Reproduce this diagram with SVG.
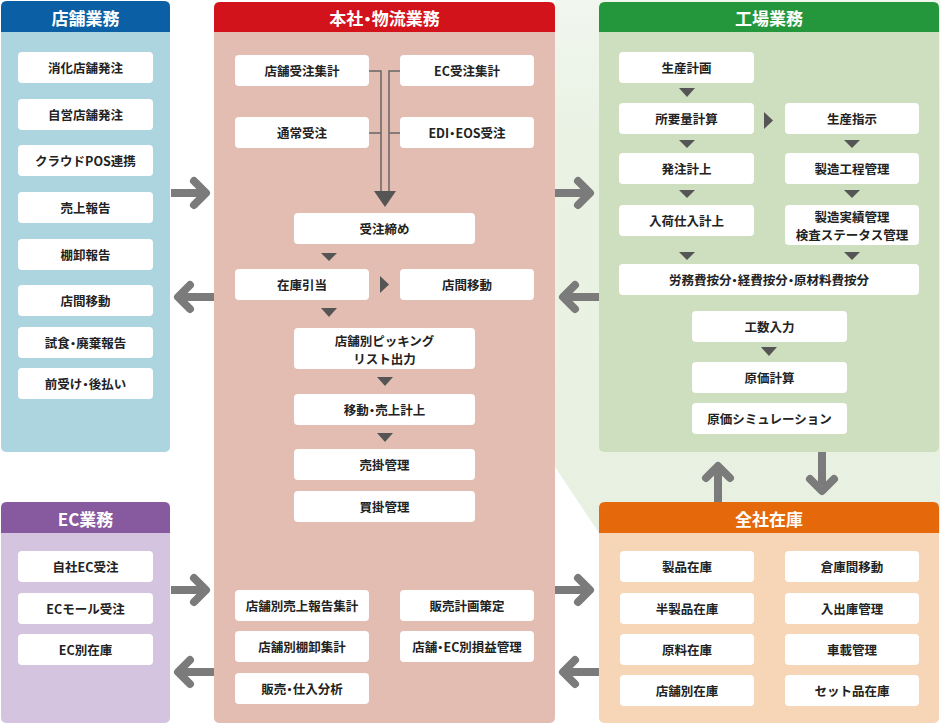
<svg xmlns="http://www.w3.org/2000/svg" width="940" height="724" viewBox="0 0 940 724">
<defs>
<linearGradient id="bgGrad" x1="0" y1="0" x2="0" y2="1">
<stop offset="0" stop-color="#f1f6ee"/>
<stop offset="0.25" stop-color="#eaf2e4"/>
<stop offset="1" stop-color="#e8f1e1"/>
</linearGradient>
</defs>
<style>
.item{fill:#ffffff}
.t{font-family:"Noto Sans CJK JP","Noto Sans",sans-serif;font-size:12.5px;font-weight:bold;fill:#222222;text-anchor:middle;dominant-baseline:central}
.h{font-family:"Noto Sans CJK JP","Noto Sans",sans-serif;font-size:17px;font-weight:bold;fill:#ffffff;text-anchor:middle;dominant-baseline:central}
.p{font-feature-settings:"palt"}
.shaft{fill:none;stroke:#7b7b7b;stroke-width:8;stroke-linecap:butt}
.head{fill:none;stroke:#7b7b7b;stroke-width:8;stroke-linecap:round;stroke-linejoin:round}
.tri{fill:#555555}
.ln{fill:none;stroke:#666666;stroke-width:1.5}
</style>
<polygon points="555,0 940,0 940,533 599,533 555,467" fill="url(#bgGrad)"/>

<g id="panel-store">
<rect x="1" y="1" width="169" height="451" rx="5" fill="#acd5df"/>
<path d="M1,32 V7 Q1,1 7,1 H164 Q170,1 170,7 V32 Z" fill="#0b5fa5"/>
<text class="h" x="85.5" y="17">店舗業務</text>
</g>
<g id="panel-hq">
<rect x="214" y="2" width="341" height="721" rx="5" fill="#e4bdb2"/>
<path d="M214,32 V8 Q214,2 220,2 H549 Q555,2 555,8 V32 Z" fill="#d3131b"/>
<text class="h" x="384.5" y="17.5">本社<tspan class="p">・</tspan>物流業務</text>
</g>
<g id="panel-factory">
<rect x="599" y="2" width="340" height="450" rx="5" fill="#cedfbf"/>
<path d="M599,32 V8 Q599,2 605,2 H933 Q939,2 939,8 V32 Z" fill="#24963b"/>
<text class="h" x="769" y="17.5">工場業務</text>
</g>
<g id="panel-ec">
<rect x="1" y="502" width="169" height="221" rx="5" fill="#d4c4e0"/>
<path d="M1,533 V508 Q1,502 7,502 H164 Q170,502 170,508 V533 Z" fill="#87599f"/>
<text class="h" x="85.5" y="518">EC業務</text>
</g>
<g id="panel-stock">
<rect x="599" y="502" width="340" height="221" rx="5" fill="#f7d6b8"/>
<path d="M599,533 V508 Q599,502 605,502 H933 Q939,502 939,508 V533 Z" fill="#e5690b"/>
<text class="h" x="769" y="518">全社在庫</text>
</g>

<g id="connectors">
<path class="ln" d="M369,71 H381 V192 M400,71 H389 V192 M369,133 H381 M400,133 H389"/>
<polygon class="tri" points="374,191 396,191 385,207"/>
<polygon class="tri" points="321,253 337,253 329,261"/>
<polygon class="tri" points="380,276 389,284.5 380,293"/>
<polygon class="tri" points="321,308 337,308 329,317"/>
<polygon class="tri" points="377,377 393,377 385,386"/>
<polygon class="tri" points="377,433 393,433 385,442"/>
<polygon class="tri" points="679,88 695,88 687,97"/>
<polygon class="tri" points="764,112 773,120.5 764,129"/>
<polygon class="tri" points="679,140 695,140 687,148"/>
<polygon class="tri" points="844,140 860,140 852,148"/>
<polygon class="tri" points="679,190 695,190 687,198"/>
<polygon class="tri" points="844,190 860,190 852,198"/>
<polygon class="tri" points="679,252 695,252 687,260"/>
<polygon class="tri" points="844,252 860,252 852,260"/>
<polygon class="tri" points="761,347 777,347 769,356"/>
<path class="shaft" d="M171,193 H204"/><path class="head" d="M194,181 L206,193 L194,205"/>
<path class="shaft" d="M214,297 H180"/><path class="head" d="M190,285 L178,297 L190,309"/>
<path class="shaft" d="M171,590 H204"/><path class="head" d="M194,578 L206,590 L194,602"/>
<path class="shaft" d="M214,672 H180"/><path class="head" d="M190,660 L178,672 L190,684"/>
<path class="shaft" d="M555,193 H588"/><path class="head" d="M578,181 L590,193 L578,205"/>
<path class="shaft" d="M599,297 H565"/><path class="head" d="M575,285 L563,297 L575,309"/>
<path class="shaft" d="M555,590 H588"/><path class="head" d="M578,578 L590,590 L578,602"/>
<path class="shaft" d="M599,672 H565"/><path class="head" d="M575,660 L563,672 L575,684"/>
<path class="shaft" d="M718,502 V468"/><path class="head" d="M706,478 L718,466 L730,478"/>
<path class="shaft" d="M822,452 V485"/><path class="head" d="M810,479 L822,491 L834,479"/>
</g>

<g id="s1"><rect class="item" x="18" y="52" width="135" height="31" rx="4"/><text class="t" x="85.5" y="67.5">消化店舗発注</text></g>
<g id="s2"><rect class="item" x="18" y="99" width="135" height="31" rx="4"/><text class="t" x="85.5" y="114.5">自営店舗発注</text></g>
<g id="s3"><rect class="item" x="18" y="145" width="135" height="31" rx="4"/><text class="t" x="85.5" y="160.5">クラウドPOS連携</text></g>
<g id="s4"><rect class="item" x="18" y="192" width="135" height="31" rx="4"/><text class="t" x="85.5" y="207.5">売上報告</text></g>
<g id="s5"><rect class="item" x="18" y="239" width="135" height="31" rx="4"/><text class="t" x="85.5" y="254.5">棚卸報告</text></g>
<g id="s6"><rect class="item" x="18" y="285" width="135" height="31" rx="4"/><text class="t" x="85.5" y="300.5">店間移動</text></g>
<g id="s7"><rect class="item" x="18" y="327" width="135" height="31" rx="4"/><text class="t" x="85.5" y="342.5">試食<tspan class="p">・</tspan>廃棄報告</text></g>
<g id="s8"><rect class="item" x="18" y="368" width="135" height="31" rx="4"/><text class="t" x="85.5" y="383.5">前受け<tspan class="p">・</tspan>後払い</text></g>

<g id="e1"><rect class="item" x="18" y="551" width="135" height="31" rx="4"/><text class="t" x="85.5" y="566.5">自社EC受注</text></g>
<g id="e2"><rect class="item" x="18" y="593" width="135" height="31" rx="4"/><text class="t" x="85.5" y="608.5">ECモール受注</text></g>
<g id="e3"><rect class="item" x="18" y="634" width="135" height="31" rx="4"/><text class="t" x="85.5" y="649.5">EC別在庫</text></g>

<g id="h1"><rect class="item" x="235" y="55" width="134" height="31" rx="4"/><text class="t" x="302" y="70.5">店舗受注集計</text></g>
<g id="h2"><rect class="item" x="400" y="55" width="134" height="31" rx="4"/><text class="t" x="467" y="70.5">EC受注集計</text></g>
<g id="h3"><rect class="item" x="235" y="117" width="134" height="31" rx="4"/><text class="t" x="302" y="132.5">通常受注</text></g>
<g id="h4"><rect class="item" x="400" y="117" width="134" height="31" rx="4"/><text class="t" x="467" y="132.5">EDI<tspan class="p">・</tspan>EOS受注</text></g>
<g id="h5"><rect class="item" x="294" y="213" width="181" height="31" rx="4"/><text class="t" x="384.5" y="228.5">受注締め</text></g>
<g id="h6"><rect class="item" x="235" y="269" width="134" height="31" rx="4"/><text class="t" x="302" y="284.5">在庫引当</text></g>
<g id="h7"><rect class="item" x="400" y="269" width="134" height="31" rx="4"/><text class="t" x="467" y="284.5">店間移動</text></g>
<g id="h8"><rect class="item" x="294" y="328" width="181" height="41" rx="4"/><text class="t" x="384.5" y="339.5"><tspan x="384.5" y="339.5">店舗別ピッキング</tspan><tspan x="384.5" y="357.8">リスト出力</tspan></text></g>
<g id="h9"><rect class="item" x="294" y="394" width="181" height="31" rx="4"/><text class="t" x="384.5" y="409.5">移動<tspan class="p">・</tspan>売上計上</text></g>
<g id="h10"><rect class="item" x="294" y="449" width="181" height="31" rx="4"/><text class="t" x="384.5" y="464.5">売掛管理</text></g>
<g id="h11"><rect class="item" x="294" y="491" width="181" height="31" rx="4"/><text class="t" x="384.5" y="506.5">買掛管理</text></g>
<g id="h12"><rect class="item" x="235" y="590" width="134" height="31" rx="4"/><text class="t" x="302" y="605.5">店舗別売上報告集計</text></g>
<g id="h13"><rect class="item" x="400" y="590" width="134" height="31" rx="4"/><text class="t" x="467" y="605.5">販売計画策定</text></g>
<g id="h14"><rect class="item" x="235" y="631" width="134" height="31" rx="4"/><text class="t" x="302" y="646.5">店舗別棚卸集計</text></g>
<g id="h15"><rect class="item" x="400" y="631" width="134" height="31" rx="4"/><text class="t" x="467" y="646.5">店舗<tspan class="p">・</tspan>EC別損益管理</text></g>
<g id="h16"><rect class="item" x="235" y="673" width="134" height="31" rx="4"/><text class="t" x="302" y="688.5">販売<tspan class="p">・</tspan>仕入分析</text></g>

<g id="f1"><rect class="item" x="619" y="52" width="135" height="31" rx="4"/><text class="t" x="686.5" y="67.5">生産計画</text></g>
<g id="f2"><rect class="item" x="619" y="103" width="135" height="31" rx="4"/><text class="t" x="686.5" y="118.5">所要量計算</text></g>
<g id="f3"><rect class="item" x="785" y="103" width="134" height="31" rx="4"/><text class="t" x="852" y="118.5">生産指示</text></g>
<g id="f4"><rect class="item" x="619" y="153" width="135" height="31" rx="4"/><text class="t" x="686.5" y="168.5">発注計上</text></g>
<g id="f5"><rect class="item" x="785" y="153" width="134" height="31" rx="4"/><text class="t" x="852" y="168.5">製造工程管理</text></g>
<g id="f6"><rect class="item" x="619" y="205" width="135" height="31" rx="4"/><text class="t" x="686.5" y="220.5">入荷仕入計上</text></g>
<g id="f7"><rect class="item" x="785" y="205" width="134" height="40" rx="4"/><text class="t" x="852" y="215.8"><tspan x="852" y="215.8">製造実績管理</tspan><tspan x="852" y="234.1">検査ステータス管理</tspan></text></g>
<g id="f8"><rect class="item" x="619" y="264" width="300" height="31" rx="4"/><text class="t" x="769" y="279.5">労務費按分<tspan class="p">・</tspan>経費按分<tspan class="p">・</tspan>原材料費按分</text></g>
<g id="f9"><rect class="item" x="692" y="311" width="155" height="31" rx="4"/><text class="t" x="769.5" y="326.5">工数入力</text></g>
<g id="f10"><rect class="item" x="692" y="362" width="155" height="31" rx="4"/><text class="t" x="769.5" y="377.5">原価計算</text></g>
<g id="f11"><rect class="item" x="692" y="403" width="155" height="31" rx="4"/><text class="t" x="769.5" y="418.5">原価シミュレーション</text></g>

<g id="z1"><rect class="item" x="620" y="551" width="134" height="31" rx="4"/><text class="t" x="687" y="566.5">製品在庫</text></g>
<g id="z2"><rect class="item" x="785" y="551" width="134" height="31" rx="4"/><text class="t" x="852" y="566.5">倉庫間移動</text></g>
<g id="z3"><rect class="item" x="620" y="593" width="134" height="31" rx="4"/><text class="t" x="687" y="608.5">半製品在庫</text></g>
<g id="z4"><rect class="item" x="785" y="593" width="134" height="31" rx="4"/><text class="t" x="852" y="608.5">入出庫管理</text></g>
<g id="z5"><rect class="item" x="620" y="634" width="134" height="31" rx="4"/><text class="t" x="687" y="649.5">原料在庫</text></g>
<g id="z6"><rect class="item" x="785" y="634" width="134" height="31" rx="4"/><text class="t" x="852" y="649.5">車載管理</text></g>
<g id="z7"><rect class="item" x="620" y="675" width="134" height="31" rx="4"/><text class="t" x="687" y="690.5">店舗別在庫</text></g>
<g id="z8"><rect class="item" x="785" y="675" width="134" height="31" rx="4"/><text class="t" x="852" y="690.5">セット品在庫</text></g>
</svg>
